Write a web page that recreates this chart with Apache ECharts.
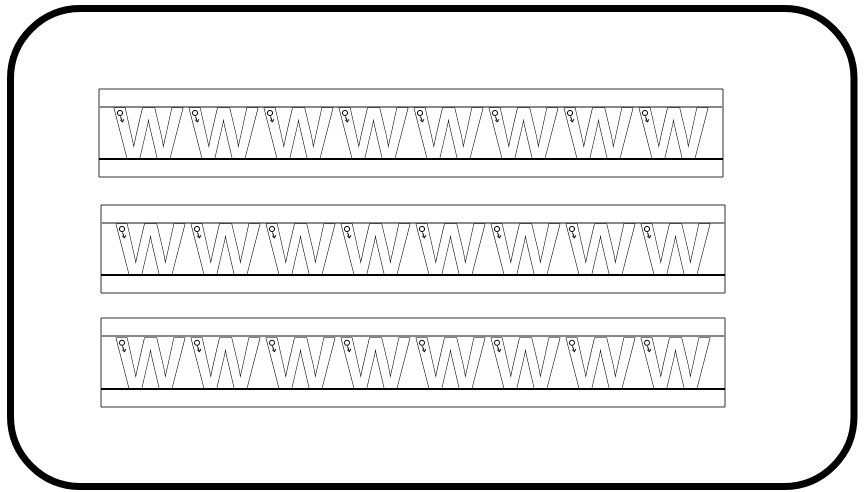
<!DOCTYPE html>
<html>
<head>
<meta charset="utf-8">
<script src="https://cdn.jsdelivr.net/npm/echarts@6/dist/echarts.min.js"></script>
<style>
  html, body { margin: 0; padding: 0; background: #fff; }
  #sheet { width: 865px; height: 492px; }
</style>
</head>
<body>
<div id="sheet"></div>
<script>
// letters to trace, one list per row
const row1 = ['W', 'W', 'W', 'W', 'W', 'W', 'W', 'W'];
const row2 = ['W', 'W', 'W', 'W', 'W', 'W', 'W', 'W'];
const row3 = ['W', 'W', 'W', 'W', 'W', 'W', 'W', 'W'];
// guide heights (px units above the baseline)
const baseLine = 0;
const capLine = 52;
const bandBottom = -18;
const bandTop = 70;

const rows = [row1, row2, row3];
const boxes = [
    { left: 99, top: 89, width: 624, height: 88 },
    { left: 101, top: 205, width: 624, height: 88 },
    { left: 101, top: 318, width: 624, height: 89 }
];

const fontSize = 72.6;

function renderLetter(params, api) {
    const p = api.coord([api.value(0), api.value(1)]);
    const letter = rows[params.seriesIndex][params.dataIndex];
    return {
        type: 'group',
        children: [
            {
                type: 'text',
                x: p[0],
                y: p[1] - fontSize * 0.29,
                style: {
                    text: letter,
                    font: 'bold ' + fontSize + 'px "Liberation Sans", Arial, sans-serif',
                    fill: '#fff',
                    stroke: '#000',
                    lineWidth: 1.2,
                    align: 'center',
                    verticalAlign: 'middle'
                }
            },
            {
                type: 'circle',
                shape: { cx: p[0] - 28.5, cy: p[1] - 46, r: 2.6 },
                style: { fill: '#fff', stroke: '#000', lineWidth: 1 }
            },
            {
                type: 'polyline',
                shape: { points: [[p[0] - 28, p[1] - 42.5], [p[0] - 26, p[1] - 37]] },
                style: { stroke: '#000', lineWidth: 1, fill: null }
            },
            {
                type: 'polyline',
                shape: { points: [[p[0] - 28.3, p[1] - 39], [p[0] - 26, p[1] - 37], [p[0] - 24.7, p[1] - 39.8]] },
                style: { stroke: '#000', lineWidth: 1, fill: null }
            }
        ]
    };
}

const chart = echarts.init(document.getElementById('sheet'));

chart.setOption({
    animation: false,
    backgroundColor: '#fff',
    graphic: [{
        type: 'rect',
        shape: { x: 10.5, y: 8.5, width: 843.5, height: 478, r: 70 },
        style: { fill: null, stroke: '#000', lineWidth: 7 },
        z: 100
    }],
    grid: boxes.map(b => Object.assign({
        show: true,
        borderColor: '#333',
        borderWidth: 1,
        backgroundColor: '#fff'
    }, b)),
    xAxis: rows.map((r, i) => ({
        type: 'value',
        gridIndex: i,
        min: -0.66,
        max: r.length - 1 + 0.66,
        show: false
    })),
    yAxis: rows.map((r, i) => ({
        type: 'value',
        gridIndex: i,
        min: bandBottom,
        max: bandTop,
        show: false
    })),
    series: rows.map((r, i) => ({
        type: 'custom',
        xAxisIndex: i,
        yAxisIndex: i,
        silent: true,
        z: 10,
        data: r.map((ch, j) => [j, baseLine]),
        renderItem: renderLetter,
        markLine: {
            silent: true,
            z: 1,
            symbol: 'none',
            label: { show: false },
            data: [
                { yAxis: capLine, lineStyle: { color: '#888', width: 2, type: 'solid' } },
                { yAxis: baseLine, lineStyle: { color: '#000', width: 2, type: 'solid' } }
            ]
        }
    }))
});
</script>
</body>
</html>
